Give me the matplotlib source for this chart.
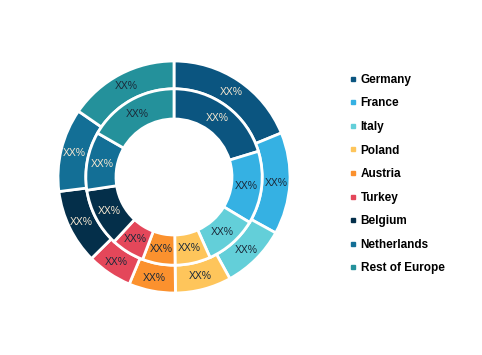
import matplotlib
matplotlib.use("Agg")
import matplotlib.pyplot as plt
from matplotlib.lines import Line2D

countries = ["Germany", "France", "Italy", "Poland", "Austria", "Turkey",
             "Belgium", "Netherlands", "Rest of Europe"]
outer_share = [18.8, 14.2, 9.0, 7.8, 6.5, 6.3, 10.4, 11.6, 15.4]
inner_share = [20.3, 13.3, 9.7, 6.5, 6.0, 6.1, 10.7, 10.7, 16.7]
label_text = "XX%"

colors = ["#0b5580", "#35b1e3", "#63cfd9", "#fec55b", "#fb912e", "#e4475a",
          "#042f4a", "#136f96", "#24919b"]
# label colour per slice: light on the dark blues, dark elsewhere
text_colors = ["#f3e6d0", "#1b2a3a", "#1b2a3a", "#1b2a3a", "#1b2a3a",
               "#1b2a3a", "#f3e6d0", "#f3e6d0", "#1b2a3a"]


def main():
    plt.rcParams['font.family'] = ['Liberation Sans', 'DejaVu Sans']
    fig = plt.figure(figsize=(4.82, 3.55), dpi=100)

    # pie axes placed in pixel terms: centre (174, 177), radius 116
    cx, cy, r = 174, 177, 116
    W, H = 482, 355
    ax = fig.add_axes([(cx - r) / W, (H - cy - r) / H, 2 * r / W, 2 * r / H])

    wedge = dict(edgecolor="white", linewidth=2)
    _, outer_txt = ax.pie(outer_share, radius=1.0, colors=colors,
                          startangle=90, counterclock=False,
                          wedgeprops=dict(width=0.24, **wedge),
                          labels=[label_text] * len(countries),
                          labeldistance=0.885, textprops=dict(fontsize=7.5))
    _, inner_txt = ax.pie(inner_share, radius=0.76, colors=colors,
                          startangle=90, counterclock=False,
                          wedgeprops=dict(width=0.26, **wedge),
                          labels=[label_text] * len(countries),
                          labeldistance=0.83, textprops=dict(fontsize=7.5))
    for group in (outer_txt, inner_txt):
        for t, c in zip(group, text_colors):
            t.set_ha("center")
            t.set_va("center")
            t.set_color(c)
    ax.set_xlim(-1, 1)
    ax.set_ylim(-1, 1)
    ax.set_aspect("auto")
    ax.axis("off")

    handles = [Line2D([], [], marker="s", linestyle="none", markersize=3.5,
                      markerfacecolor=c, markeredgecolor=c) for c in colors]
    fig.legend(handles, countries, loc="upper left",
               bbox_to_anchor=(344 / W, 1 - 68 / H), frameon=False,
               prop=dict(size=8.5, weight="bold"), labelspacing=0.98,
               handlelength=0.6, handletextpad=0.3, borderpad=0)

    fig.savefig("out.png", dpi=100)


if __name__ == "__main__":
    main()
